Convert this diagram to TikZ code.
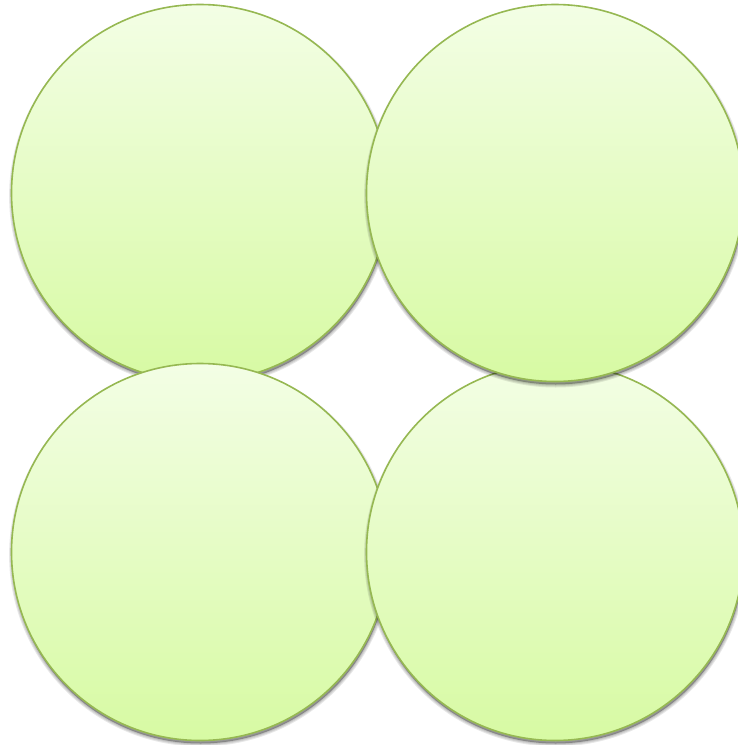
\documentclass[tikz,border=0pt]{standalone}
\definecolor{rimgreen}{RGB}{150,184,82}
\definecolor{fillTop}{RGB}{243,254,229}
\definecolor{fillBot}{RGB}{215,250,163}
\begin{document}
\begin{tikzpicture}[x=1pt,y=-1pt,
  shadowring/.style={preaction={draw=black, draw opacity=0.09, line width=#1, transform canvas={shift={(0.6pt,-3pt)}}}},
  ball/.style={circle, draw=rimgreen, line width=1.6pt, inner sep=0pt,
    minimum size=377pt, top color=fillTop, bottom color=fillBot,
    shadowring=6pt, shadowring=4pt, shadowring=2pt,
    preaction={fill=black, fill opacity=0.3, transform canvas={shift={(0.6pt,-3pt)}}}}]
\useasboundingbox (0,0) rectangle (737,745);
\node[ball] (tl) at (200,193) {};
\node[ball] (bl) at (200,552) {};
\node[ball] (br) at (555,552) {};
\node[ball] (tr) at (555,193) {};
\end{tikzpicture}
\end{document}
